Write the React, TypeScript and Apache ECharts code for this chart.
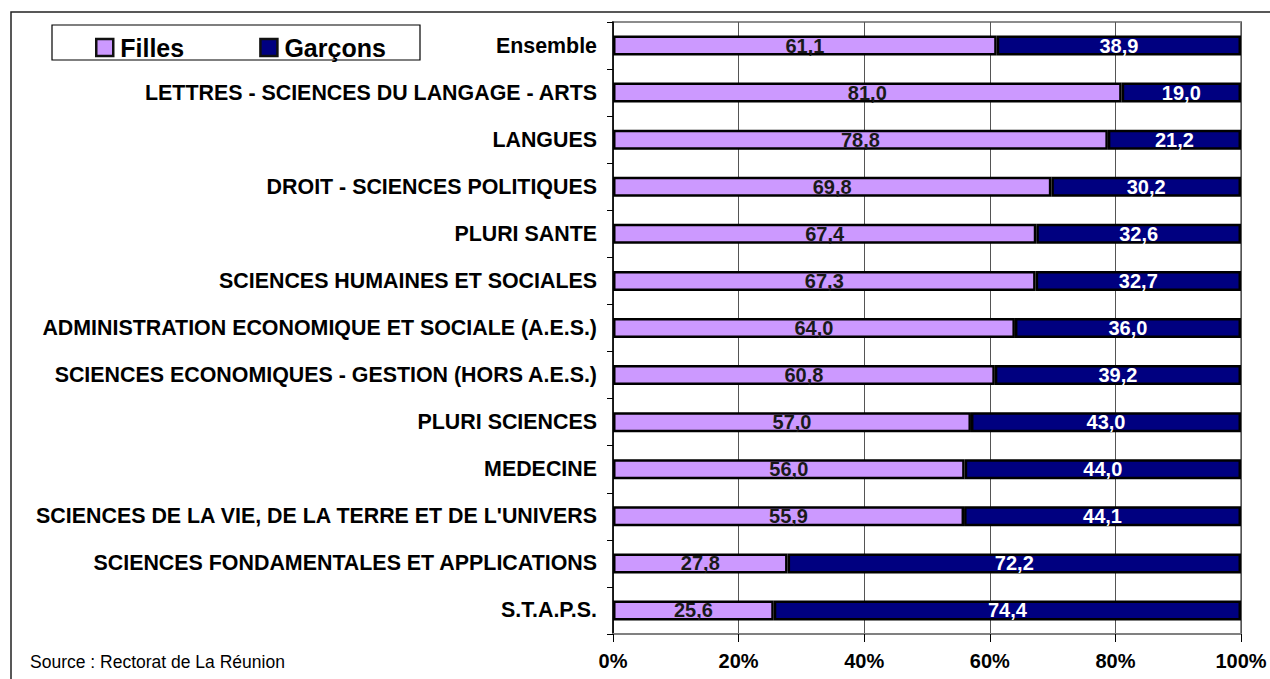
import React, { useEffect, useRef } from "react";
import * as echarts from "echarts";

const categories = [
  "Ensemble",
  "LETTRES - SCIENCES DU LANGAGE - ARTS",
  "LANGUES",
  "DROIT - SCIENCES POLITIQUES",
  "PLURI SANTE",
  "SCIENCES HUMAINES ET SOCIALES",
  "ADMINISTRATION ECONOMIQUE ET SOCIALE (A.E.S.)",
  "SCIENCES ECONOMIQUES - GESTION (HORS A.E.S.)",
  "PLURI SCIENCES",
  "MEDECINE",
  "SCIENCES DE LA VIE, DE LA TERRE ET DE L'UNIVERS",
  "SCIENCES FONDAMENTALES ET APPLICATIONS",
  "S.T.A.P.S.",
];
const filles = [61.1, 81.0, 78.8, 69.8, 67.4, 67.3, 64.0, 60.8, 57.0, 56.0, 55.9, 27.8, 25.6];
const garcons = [38.9, 19.0, 21.2, 30.2, 32.6, 32.7, 36.0, 39.2, 43.0, 44.0, 44.1, 72.2, 74.4];
const xTicks = [0, 20, 40, 60, 80, 100];

const FONT = "'Liberation Sans', Arial, sans-serif";
const fmt = (v: number) => v.toFixed(1).replace(".", ",");

export default function App() {
  const ref = useRef<HTMLDivElement>(null);
  useEffect(() => {
    if (!ref.current) return;
    const chart = echarts.init(ref.current, undefined, { renderer: "svg" });
    chart.setOption({
      animation: false,
      backgroundColor: "#fff",
      textStyle: { fontFamily: FONT },
      grid: {
        left: 613,
        right: 29,
        top: 22,
        bottom: 45,
        show: true,
        borderColor: "#8c8c8c",
        borderWidth: 2,
        containLabel: false,
      },
      legend: {
        left: 90,
        top: 30,
        icon: "rect",
        itemWidth: 17,
        itemHeight: 17,
        itemGap: 75,
        textStyle: { fontFamily: FONT, fontWeight: "bold", fontSize: 25, color: "#000", padding: [0, 0, 0, 2] },
        data: [
          { name: "Filles", itemStyle: { borderColor: "#111", borderWidth: 2.5 } },
          { name: "Garçons", itemStyle: { borderColor: "#111", borderWidth: 2.5 } },
        ],
        z: 5,
      },
      xAxis: {
        type: "value",
        min: 0,
        max: 100,
        interval: 20,
        axisLine: { show: true, lineStyle: { color: "#808080", width: 2 } },
        axisTick: { show: true, length: 8, lineStyle: { color: "#000", width: 1 } },
        splitLine: { show: true, lineStyle: { color: "#555", width: 1 } },
        axisLabel: {
          margin: 17,
          fontFamily: FONT,
          fontWeight: "bold",
          fontSize: 20,
          color: "#000",
          formatter: (v: number) => (xTicks.includes(v) ? v + "%" : ""),
        },
      },
      yAxis: {
        type: "category",
        inverse: true,
        data: categories,
        axisLine: { show: true, lineStyle: { color: "#000", width: 1.5 } },
        axisTick: { show: true, length: 6, alignWithLabel: false, lineStyle: { color: "#000" } },
        axisLabel: {
          margin: 16,
          fontFamily: FONT,
          fontWeight: "bold",
          fontSize: 21.4,
          color: "#000",
        },
      },
      series: [
        {
          name: "Filles",
          type: "bar",
          stack: "total",
          data: filles,
          barWidth: 20,
          itemStyle: { color: "#CC99FF", borderColor: "#000", borderWidth: 2.5 },
          label: {
            show: true,
            position: "inside",
            fontFamily: FONT,
            fontWeight: "bold",
            fontSize: 20,
            color: "#1a1a1a",
            formatter: (p: any) => fmt(p.value),
          },
        },
        {
          name: "Garçons",
          type: "bar",
          stack: "total",
          data: garcons,
          barWidth: 20,
          itemStyle: { color: "#000080", borderColor: "#000", borderWidth: 2.5 },
          label: {
            show: true,
            position: "inside",
            fontFamily: FONT,
            fontWeight: "bold",
            fontSize: 20,
            color: "#fff",
            formatter: (p: any) => fmt(p.value),
          },
        },
      ],
      graphic: [
        {
          type: "rect",
          shape: { x: 11, y: 12, width: 1300, height: 700 },
          style: { fill: "none", stroke: "#222", lineWidth: 1.5 },
          z: 0,
        },
        {
          type: "rect",
          shape: { x: 52, y: 25, width: 368, height: 35 },
          style: { fill: "#fff", stroke: "#000", lineWidth: 1.2 },
          z: 1,
        },
        {
          type: "text",
          left: 30,
          top: 653,
          style: { text: "Source : Rectorat de La Réunion", font: `17.5px ${FONT}`, fill: "#000" },
        },
      ],
    });
    return () => chart.dispose();
  }, []);
  return (
    <div
      ref={ref}
      style={{ position: "absolute", left: 0, top: 0, width: 1270, height: 679 }}
    />
  );
}
